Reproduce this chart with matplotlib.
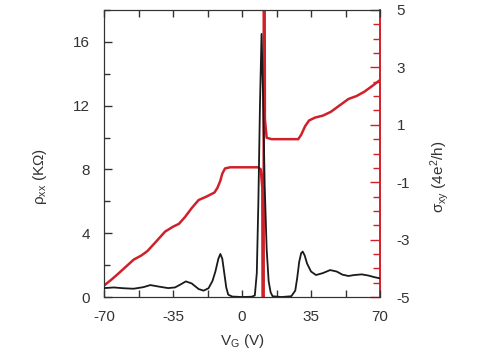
import matplotlib
matplotlib.use("Agg")
import matplotlib.pyplot as plt
import numpy as np
from matplotlib.ticker import MultipleLocator

plt.rcParams['font.family'] = ['Liberation Sans', 'DejaVu Sans']
plt.rcParams['axes.unicode_minus'] = False
plt.rcParams['mathtext.fontset'] = 'custom'
plt.rcParams['mathtext.rm'] = 'Liberation Sans'
plt.rcParams['mathtext.it'] = 'Liberation Sans'

## data

vg_rho = [-70, -65, -60, -55, -50, -46.5, -42, -37.5, -34, -31, -28.5, -25.5, -22, -19.5,
          -17, -15, -13.5, -12, -11, -10, -9, -8, -7, -5, 0, 5, 6.5, 7.5, 8.3, 9.1, 9.9,
          10.6, 11.5, 12.5, 13.5, 14.5, 15.5, 20, 25, 27, 28, 29, 30, 30.8, 31.8, 33, 35,
          37.5, 41, 44.7, 48, 51, 54, 57, 60.7, 64, 67, 70]
rho_xx = [0.56, 0.6, 0.55, 0.52, 0.62, 0.75, 0.65, 0.56, 0.6, 0.8, 0.98, 0.85, 0.5, 0.4,
          0.55, 1.0, 1.6, 2.4, 2.7, 2.4, 1.5, 0.6, 0.15, 0.03, 0.0, 0.02, 0.1, 1.5, 6.0, 12.0,
          16.5, 13.0, 7.0, 3.0, 1.0, 0.3, 0.05, 0.0, 0.05, 0.4, 1.2, 2.2, 2.75, 2.85, 2.6, 2.1,
          1.6, 1.38, 1.5, 1.69, 1.6, 1.4, 1.32, 1.38, 1.42, 1.35, 1.25, 1.17]

vg_sig = [-70, -66, -63, -59, -55, -51, -48, -44, -39, -35, -32, -29, -25.5, -22, -18, -14,
          -12.5, -11, -10, -8.6, -6, 0, 8, 9.5, 10.3, 10.95, 11.05, 11.6, 12.5, 15, 28.5, 30,
          32, 34, 37, 41, 45, 50, 54, 58, 62, 66, 70]
sigma_xy = [-4.6, -4.38, -4.2, -3.95, -3.7, -3.55, -3.4, -3.1, -2.72, -2.55, -2.45, -2.22,
            -1.9, -1.62, -1.5, -1.36, -1.2, -0.95, -0.7, -0.52, -0.48, -0.48, -0.48, -0.55,
            -1.2, -20, 20, 1.2, 0.55, 0.5, 0.5, 0.65, 0.95, 1.15, 1.25, 1.32, 1.45, 1.7, 1.9,
            2.0, 2.15, 2.35, 2.56]

x_ticks = [-70, -35, 0, 35, 70]
left_ticks = [0, 4, 8, 12, 16]
right_ticks = [-5, -3, -1, 1, 3, 5]

red = '#d0202a'
txt = '#333333'

fig = plt.figure(figsize=(4.8, 3.57), dpi=100)
ax = fig.add_axes([0.2167, 0.168, 0.575, 0.804])
ax2 = ax.twinx()

ax.plot(vg_rho, rho_xx, color='#1a1a1a', lw=1.3, zorder=3)
ax2.plot(vg_sig, sigma_xy, color=red, lw=1.8)

ax.set_zorder(2)
ax.patch.set_visible(False)

ax.set_xlim(-70, 70)
ax.set_ylim(0, 18)
ax2.set_ylim(-5, 5)

ax.set_xticks(x_ticks)
ax.xaxis.set_minor_locator(MultipleLocator(17.5))
ax.set_yticks(left_ticks)
ax.yaxis.set_minor_locator(MultipleLocator(2))
ax2.set_yticks(right_ticks)
ax2.yaxis.set_minor_locator(MultipleLocator(0.5))

ax.tick_params(axis='x', which='both', direction='in', top=True, length=5, width=1,
               color='#333333', labelsize=11, labelcolor=txt, pad=9)
ax.tick_params(axis='y', which='major', direction='in', length=6, width=1,
               color='#333333', labelsize=11, labelcolor=txt, pad=10)
ax.tick_params(axis='y', which='minor', direction='in', length=4, width=1, color='#333333')
ax2.tick_params(axis='y', which='major', direction='in', length=7, width=1,
                color=red, labelsize=11, labelcolor=txt, pad=12)
ax2.tick_params(axis='y', which='minor', direction='in', length=5, width=1, color=red)

for s in ['left', 'top', 'bottom']:
    ax.spines[s].set_color('#333333')
    ax2.spines[s].set_color('#333333')
ax.spines['right'].set_visible(False)
ax2.spines['right'].set_color(red)
ax2.spines['right'].set_linewidth(1.4)

ax.set_xlabel(r'V$_{\mathrm{G}}$ (V)', fontsize=11, color=txt, labelpad=6)
ax.set_ylabel(r'ρ$_{\mathrm{xx}}$ (KΩ)', fontsize=11, color=txt)
ax2.set_ylabel(r'σ$_{\mathrm{xy}}$ (4e$^{\mathrm{2}}$/h)', fontsize=11, color=txt)
ax.yaxis.set_label_coords(-0.2, 0.42)
ax2.yaxis.set_label_coords(1.175, 0.42)

fig.savefig('out.png', dpi=100)
